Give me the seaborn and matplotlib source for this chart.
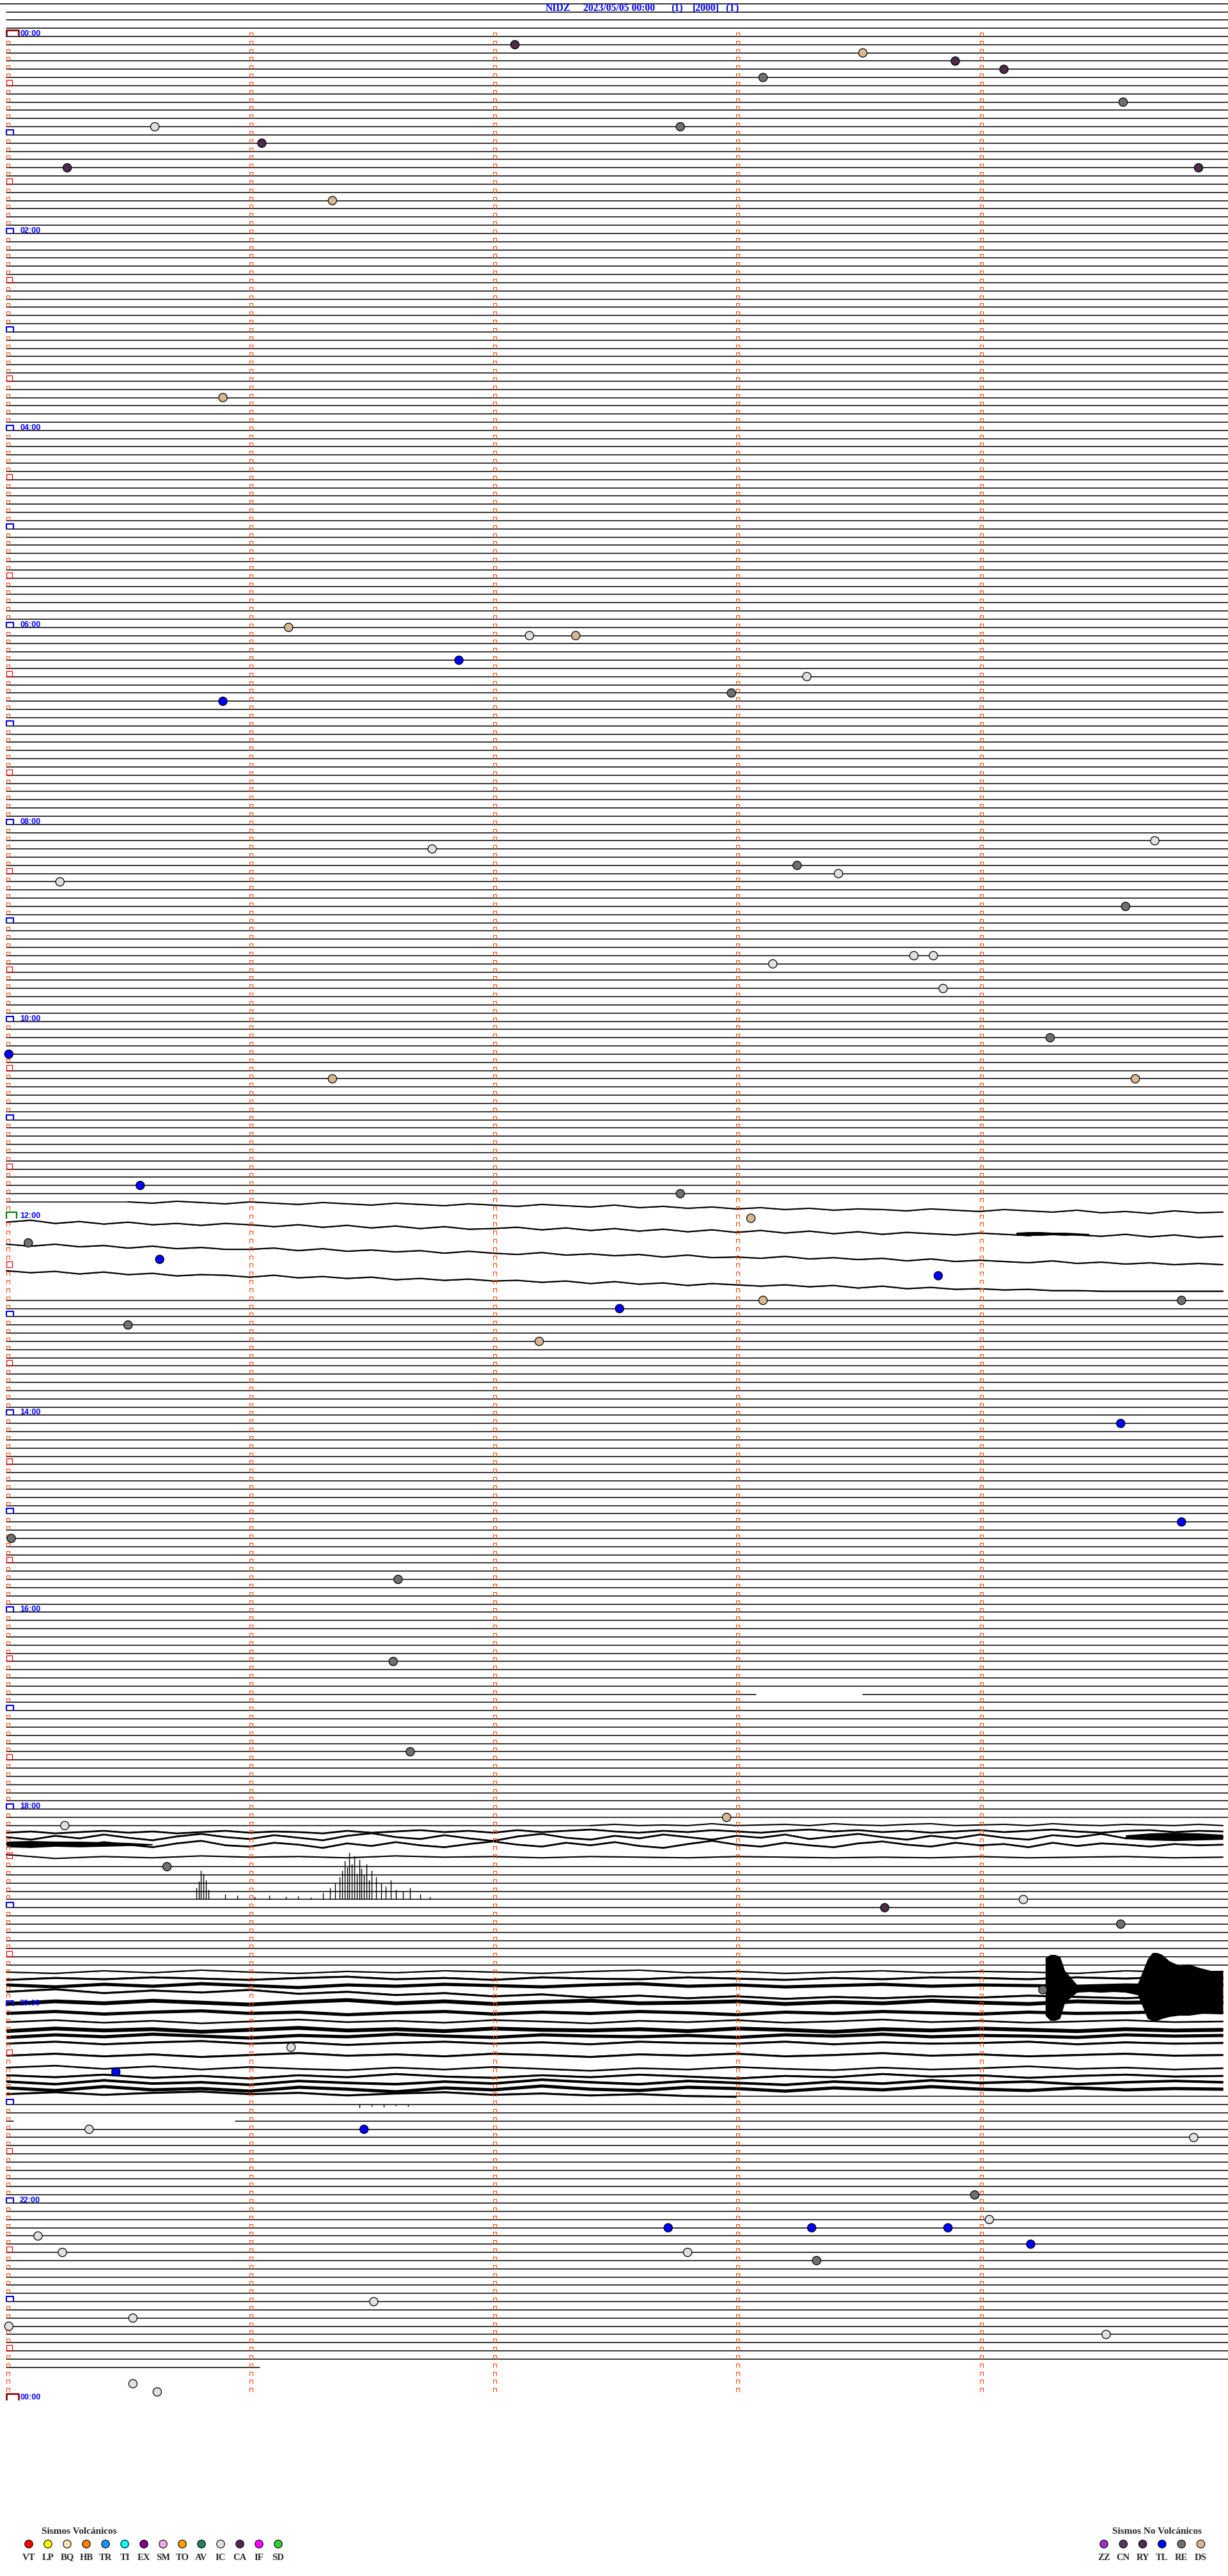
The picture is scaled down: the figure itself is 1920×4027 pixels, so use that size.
import numpy as np
import pandas as pd
import matplotlib
matplotlib.use("Agg")
import matplotlib.pyplot as plt
from matplotlib.path import Path
import seaborn as sns

sns.set_style("white")
plt.rcParams['font.family'] = ['Liberation Serif', 'DejaVu Sans']

# page geometry (pixels)
W, H = 1920, 4027
X0, PX_MIN = 10, 380.4      # x of minute 0 and pixels per minute
Y0, PX_LINE = 57, 12.83     # y of the 00:00 trace and pixels per 5-minute line
M_END = (W - X0) / PX_MIN

# ---------------- data ----------------
title_parts = ["NIDZ", "2023/05/05 00:00", "(1)", "[2000]", "(T)"]
title_x = [853, 912, 1049, 1083, 1134]

first_line, last_line = -4, 284          # line 0 = 00:00, one line = 5 min
missing_lines = [143, 145, 146, 148, 149, 151, 152, 153]
gap_lines = [202, 254]
gap_start = [3.08, 0.03]
gap_end = [3.52, 0.94]
partial_lines = [142, 218, 251, 284]
partial_start = [0.0, 0.0, 3.0, 0.0]
partial_end = [0.5, 2.4, M_END, 1.04]

# noisy traces: offsets from the line in pixels (down = positive)
trace_142 = [0, 2, -1, 1, 3, 0, 2, 4, 1, 3, 5, 2, 4, 6, 3, 5, 7, 4, 6, 8, 5, 9, 7, 10, 8, 11, 9, 12, 10, 13,
             11, 12, 14, 11, 13, 15, 12, 14, 16, 13, 17, 15, 18, 14, 17, 16]
trace_144 = [6, 3, 8, 5, 9, 6, 10, 8, 11, 8, 10, 13, 10, 14, 11, 15, 12, 16, 13, 17, 16, 14, 18, 15, 19, 16,
             20, 17, 21, 18, 22, 19, 23, 20, 24, 21, 25, 22, 24, 26, 23, 25, 27, 24, 26, 28, 25, 29, 26, 30, 28]
trace_147 = [2, 5, 2, 6, 4, 8, 5, 9, 7, 10, 10, 8, 12, 9, 13, 11, 14, 12, 16, 13, 16, 18, 15, 19, 17, 20,
             18, 22, 19, 23, 22, 24, 21, 25, 23, 26, 24, 28, 25, 29, 27, 29, 31, 28, 32, 30, 33, 31, 34, 32, 34]
trace_150 = [5, 8, 6, 10, 7, 11, 9, 13, 11, 12, 15, 12, 16, 14, 17, 15, 19, 17, 20, 18, 21, 20, 23, 21, 25,
             22, 26, 24, 28, 25, 27, 29, 27, 30, 28, 32, 29, 33, 31, 34, 33, 35, 34, 36, 36, 37, 37, 37, 37, 37, 37]
trace_218 = [0, -2, 0, -1, 0, -3, 0, -1, -2, 0, -3, -1, 0, -2, -3, 0, -1, -2, 0, -3, -1, 0, -2, -1, 0, -2, 0]
trace_219 = [-2, -4, -1, -3, -5, -2, -4, -1, -3, -5, -2, -4, -3, -1, -5, -2, -4, -6, -3, -5, -2, -6, -3, -5,
             -7, -4, -2, -5, -3, -6, -4, -2, -5, -7, -4, -6, -3, -5, -2, -4, -6, -3, -5, -7, -4, -2, -5, -6, -3, -5, -4]
trace_220 = [-8, -4, -10, -6, -12, -7, -3, -9, -13, -8, -5, -11, -7, -3, -10, -14, -8, -5, -11, -6, -2, -9, -13,
             -7, -4, -10, -6, -12, -8, -4, -10, -7, -12, -5, -9, -13, -8, -4, -10, -6, -12, -7, -4, -11, -8, -13,
             -6, -10, -5, -12, -8]
trace_221 = [-10, -6, -12, -7, -13, -9, -5, -11, -15, -8, -6, -12, -9, -4, -11, -7, -13, -8, -5, -10, -14, -9,
             -6, -12, -8, -13, -7, -4, -10, -15, -9, -6, -12, -8, -5, -11, -14, -9, -6, -12, -8, -10, -5, -12,
             -7, -11, -9, -6, -10, -8, -9]
trace_222 = [-6, 0, -3, -1, -4, -2, -3, -1, -4, -2, -3, -1, -3, -2, -1, -3, -2, -1, -2, -1, -3, -1, -2, -3, -1, -2]
trace_236 = [-2, 0, -4, -1, -5, -2, 0, -3, -1, -4, -2, 0, -3, -5, -1, -3, 0, -2, -4, -1, -3, -2, 0, -4, -2, -3]
trace_237 = [-3, -6, -4, -7, -5, -3, -6, -8, -4, -6, -3, -7, -5, -4, -7, -5, -3, -6, -4, -7, -6, -4, -7, -5, -8, -6]
trace_238 = [-8, -5, -9, -6, -10, -7, -4, -8, -6, -9, -7, -5, -8, -10, -6, -8, -5, -7, -9, -6, -8, -7, -6, -8, -7, -8]
trace_239 = [-10, -14, -8, -12, -9, -13, -7, -10, -5, -8, -3, -6, -1, -4, 0, -3, 1, -2, 0, -3, -1, -4, -2, 0, -3, -2]
trace_240 = [-4, -8, -5, -9, -6, -3, -7, -10, -5, -8, -4, -7, -9, -5, -6, -8, -4, -7, -5, -9, -6, -4, -8, -6, -7, -6]
trace_241 = [-2, -5, -1, -4, -6, -2, -4, 0, -3, -5, -1, -4, -2, -5, -3, 0, -4, -2, -5, -3, -1, -4, -2, -3, -5, -3]
trace_242 = [-1, -4, 0, -3, 1, -2, -5, -1, -3, 0, -4, -2, 1, -3, -1, -4, 0, -2, -5, -1, -3, 0, -2, -4, -1, -2]
trace_243 = [0, -4, -1, -3, 1, -2, -5, -1, -3, 0, -4, -2, -1, -3, 0, -4, -2, 1, -3, -1, -4, -2, 0, -3, -1, -2]
trace_244 = [-3, -7, -4, -8, -5, -2, -6, -4, -8, -5, -3, -7, -5, -4, -6, -3, -7, -5, -8, -4, -6, -5, -3, -7, -5, -6]
trace_245 = [-6, -9, -5, -8, -10, -6, -8, -4, -7, -9, -6, -8, -5, -9, -7, -6, -9, -5, -8, -6, -7, -9, -5, -8, -6, -7]
trace_246 = [0, -3, 1, -2, 2, -1, -4, 0, -2, 1, -3, -1, 2, -2, 0, -3, 1, -1, -4, 0, -2, 1, -1, -3, 0, -1]
trace_247 = [6, 3, 8, 4, 9, 5, 8, 10, 6, 9, 5, 8, 11, 7, 9, 5, 8, 10, 6, 9, 7, 4, 8, 6, 9, 7]
trace_248 = [5, 8, 4, 9, 6, 10, 5, 8, 3, 7, 9, 5, 8, 4, 7, 10, 6, 8, 3, 7, 5, 9, 6, 4, 7, 6]
trace_249 = [2, 6, 0, 5, 3, 7, 1, 4, 6, 2, 5, -1, 3, 6, 1, 4, 7, 2, 5, 0, 4, 2, 6, 3, 1, 3]
trace_250 = [-1, 3, -3, 2, 0, 4, -2, 1, 5, -1, 2, -4, 1, 3, -2, 0, 4, -1, 2, -3, 1, 3, -1, 2, 0, 1]
trace_251 = [-4, -7, -3, -6, -8, -4, -6, -2, -5, -7, -3, -5, -2, -4, -1, 0]

noisy_lines = [142, 144, 147, 150, 218, 219, 220, 221, 222, 236, 237, 238, 239, 240, 241, 242, 243,
               244, 245, 246, 247, 248, 249, 250, 251]
noisy_start = [0.5, 0, 0, 0, 2.4, 0, 0, 0, 0, 0, 0, 0, 0, 0, 0, 0, 0, 0, 0, 0, 0, 0, 0, 0, 0]
noisy_end = [5, 5, 5, 5, 5, 5, 5, 5, 5, 5, 5, 5, 5, 5, 5, 5, 5, 5, 5, 5, 5, 5, 5, 5, 3.0]
noisy_band = [0.4, 0.6, 0.6, 0.6, 0, 1.2, 1.2, 1.2, 0.3, 0.5, 1.5, 2.5, 1.5, 3, 2.5, 1, 3, 2.5, 1.5, 1.5,
              1, 1.5, 2, 2.5, 1.5]
noisy_values = [trace_142, trace_144, trace_147, trace_150, trace_218, trace_219, trace_220, trace_221,
                trace_222, trace_236, trace_237, trace_238, trace_239, trace_240, trace_241, trace_242,
                trace_243, trace_244, trace_245, trace_246, trace_247, trace_248, trace_249, trace_250, trace_251]

# bursts of strong shaking (envelope top / bottom in pixels)
burst144_m = [4.15, 4.2, 4.25, 4.3, 4.35, 4.4, 4.45]
burst144_top = [22, 21, 21, 22, 22, 23, 24]
burst144_bot = [25, 26, 27, 26, 27, 26, 26]
burst220_m = [4.6, 4.7, 4.8, 4.9, 5.0]
burst220_top = [-11, -14, -15, -14, -12]
burst220_bot = [-5, -3, -2, -3, -4]
burst221_m = [0, 0.1, 0.2, 0.3, 0.4, 0.5, 0.6]
burst221_top = [-14, -15, -14, -14, -13, -12, -10]
burst221_bot = [-5, -4, -6, -5, -6, -7, -8]
burst238_m = [4.27, 4.29, 4.31, 4.33, 4.35, 4.40, 4.45, 4.50, 4.55, 4.60, 4.65, 4.69, 4.71, 4.73, 4.75,
              4.78, 4.82, 4.86, 4.90, 4.95, 5.0]
burst238_top = [-50, -55, -55, -52, -30, -8, -6, -8, -6, -8, -10, -48, -58, -58, -55, -45, -38, -40,
                -35, -30, -30]
burst238_bot = [40, 48, 48, 45, 20, 4, 3, 4, 3, 4, 8, 45, 48, 48, 45, 42, 40, 40, 38, 35, 35]

# spikes on the 18:55 line and small dips on the 21:00 line (pixels)
spike227_m = [0.78, 0.79, 0.80, 0.81, 0.82, 0.83, 0.90, 0.95, 1.02, 1.08, 1.15, 1.20, 1.25, 1.30, 1.33,
              1.35, 1.37, 1.38, 1.39, 1.40, 1.41, 1.42, 1.43, 1.44, 1.45, 1.46, 1.47, 1.48, 1.49, 1.50,
              1.52, 1.54, 1.56, 1.58, 1.60, 1.63, 1.66, 1.70, 1.74]
spike227_h = [18, 28, 45, 40, 30, 15, 8, 6, 4, 6, 4, 5, 3, 10, 18, 25, 35, 45, 60, 50, 73, 55, 68, 40, 62,
              48, 38, 55, 30, 45, 35, 25, 20, 30, 15, 12, 18, 8, 4]
dip252_m = [1.45, 1.5, 1.55, 1.6, 1.65]
dip252_h = [5, 3, 4, 2, 3]

# events: line index, minute within the line, type
event_line = [1, 2, 3, 4, 5, 8, 11, 11, 13, 16, 16, 20, 44, 72, 73, 73, 76, 78, 80, 81, 99, 98, 101, 102,
              103, 106, 112, 112, 113, 116, 122, 124, 127, 127, 140, 141, 144, 147, 149, 151, 155, 154, 154,
              157, 159, 169, 181, 183, 188, 198, 209, 218, 217, 223, 228, 227, 230, 238, 245, 248, 255, 255,
              256, 263, 266, 267, 267, 267, 269, 268, 270, 270, 271, 276, 278, 279, 280, 286, 287]
event_min = [2.09, 3.52, 3.90, 4.10, 3.11, 4.59, 0.61, 2.77, 1.05, 0.25, 4.90, 1.34, 0.89, 1.16, 2.15, 2.34,
             1.86, 3.29, 2.98, 0.89, 1.75, 4.72, 3.25, 3.42, 0.22, 4.60, 3.73, 3.81, 3.15, 3.85, 4.29, 0.01,
             1.34, 4.64, 0.55, 2.77, 3.06, 0.09, 0.63, 3.83, 2.52, 3.11, 4.83, 0.50, 2.19, 4.58, 4.83, 0.02,
             1.61, 1.59, 1.66, 0.24, 2.96, 0.66, 3.61, 4.18, 4.58, 4.26, 1.17, 0.45, 0.34, 1.47, 4.88, 3.98,
             4.04, 2.72, 3.31, 3.87, 4.21, 0.13, 0.23, 2.80, 3.33, 1.51, 0.52, 0.01, 4.52, 0.52, 0.62]
event_type = ["RY", "DS", "RY", "RY", "RE", "RE", "IC", "RE", "RY", "RY", "RY", "DS", "DS", "DS", "IC", "DS",
              "TL", "IC", "RE", "TL", "IC", "IC", "RE", "IC", "IC", "RE", "IC", "IC", "IC", "IC", "RE", "TL",
              "DS", "DS", "TL", "RE", "DS", "RE", "TL", "TL", "TL", "DS", "RE", "RE", "DS", "TL", "TL", "RE",
              "RE", "RE", "RE", "IC", "DS", "RE", "RY", "IC", "RE", "RE", "IC", "TL", "IC", "TL", "IC", "RE",
              "IC", "TL", "TL", "TL", "TL", "IC", "IC", "IC", "RE", "IC", "IC", "IC", "IC", "IC", "IC"]

# legend
volc_names = ["VT", "LP", "BQ", "HB", "TR", "TI", "EX", "SM", "TO", "AV", "IC", "CA", "IF", "SD"]
volc_colors = ["#ff0000", "#ffff00", "#f3e5b5", "#ff8000", "#1e90ff", "#00ffff", "#800080", "#f0a8e8",
               "#ffa000", "#208060", "#e0e0e0", "#4b2c4b", "#ff00ff", "#33cc33"]
nonvolc_names = ["ZZ", "CN", "RY", "TL", "RE", "DS"]
nonvolc_colors = ["#9933cc", "#4d3b57", "#4b2c4b", "#0000ff", "#707070", "#d8b890"]

# ---------------- figure ----------------
fig = plt.figure(figsize=(W / 100, H / 100), dpi=100)
ax = fig.add_axes([0, 0, 1, 1])
top = fig.add_axes([0, 0, 1, 1], zorder=10)
top.patch.set_alpha(0)

# flat trace segments
noisy_full = set(noisy_lines) - set(partial_lines)
rows = []
seg = 0
for n in range(first_line, last_line + 1):
    if n in missing_lines or n in noisy_full:
        continue
    if n in partial_lines:
        k = partial_lines.index(n)
        spans = [(partial_start[k], partial_end[k])]
    elif n in gap_lines:
        k = gap_lines.index(n)
        spans = [(0, gap_start[k]), (gap_end[k], M_END)]
    elif n == first_line:
        spans = [(-X0 / PX_MIN, M_END)]
    else:
        spans = [(0, M_END)]
    for a, b in spans:
        rows += [(seg, a, n), (seg, b, n)]
        seg += 1
flat = pd.DataFrame(rows, columns=["seg", "m", "y"])
sns.lineplot(data=flat, x="m", y="y", units="seg", estimator=None, sort=False,
             color="black", lw=1.1, ax=ax, legend=False)

# noisy traces
rows = []
for k, (n, vals) in enumerate(zip(noisy_lines, noisy_values)):
    xs = np.linspace(noisy_start[k], noisy_end[k], len(vals))
    ys = n + np.array(vals) / PX_LINE
    rows += [(k, x, y) for x, y in zip(xs, ys)]
    if noisy_band[k] > 0:
        b = noisy_band[k] / PX_LINE
        ax.fill_between(xs, ys - b, ys + b, color="black", lw=0)
noisy = pd.DataFrame(rows, columns=["seg", "m", "y"])
sns.lineplot(data=noisy, x="m", y="y", units="seg", estimator=None, sort=False,
             color="black", lw=1.5, ax=ax, legend=False)

for n, bm, bt, bb in [(144, burst144_m, burst144_top, burst144_bot),
                      (220, burst220_m, burst220_top, burst220_bot),
                      (221, burst221_m, burst221_top, burst221_bot),
                      (238, burst238_m, burst238_top, burst238_bot)]:
    ax.fill_between(bm, n + np.array(bt) / PX_LINE, n + np.array(bb) / PX_LINE, color="black", lw=0)

ax.vlines(spike227_m, 227, 227 - np.array(spike227_h) / PX_LINE, colors="black", lw=1.0)
ax.vlines(dip252_m, 252, 252 + np.array(dip252_h) / PX_LINE, colors="black", lw=1.0)


# minute ticks and hour boxes
def cap(w, h, closed=False):
    verts = [(0, 0), (0, h), (w, h), (w, 0)]
    codes = [Path.MOVETO, Path.LINETO, Path.LINETO, Path.LINETO]
    if closed:
        verts.append((0, 0))
        codes.append(Path.CLOSEPOLY)
    return Path(verts, codes)


all_lines = np.arange(0, 288)
tick_x, tick_y = [], []
for n in all_lines:
    for m in range(5):
        if m == 0 and n % 6 == 0:
            continue
        tick_x.append(m)
        tick_y.append(n)
ax.plot(tick_x, tick_y, ls="none", marker=cap(5, 6), ms=1.44 * 6, mfc="none",
        mec="#ff4500", mew=0.8, zorder=4)

hour_lines = [n for n in range(12, 288, 12) if n != 144]
half_lines = list(range(6, 288, 12))
ax.plot([0] * len(hour_lines), hour_lines, ls="none", marker=cap(11, 8), ms=1.44 * 11,
        mfc="none", mec="#0000ff", mew=1.5, zorder=4)
ax.plot([0] * len(half_lines), half_lines, ls="none", marker=cap(9, 9, True), ms=1.44 * 9,
        mfc="none", mec="#ff0000", mew=0.9, zorder=4)
ax.plot([0], [144], ls="none", marker=cap(16, 10), ms=1.44 * 16, mfc="none",
        mec="#008000", mew=1.6, zorder=4)
ax.plot([0, 0], [0, 288], ls="none", marker=cap(19, 10), ms=1.44 * 19, mfc="none",
        mec="#800000", mew=1.9, zorder=4)

for n in range(0, 289, 24):
    ax.text(21 / PX_MIN, n - 1 / PX_LINE, f"{(n // 12) % 24:02d}:00", color="#0000ff",
            fontsize=9, fontweight="bold", family=["Liberation Sans", "DejaVu Sans"],
            va="baseline", ha="left", zorder=5)

# events
type_colors = dict(zip(volc_names + nonvolc_names, volc_colors + nonvolc_colors))
events = pd.DataFrame({"m": event_min, "line": event_line, "type": event_type})
sns.scatterplot(data=events, x="m", y="line", hue="type", palette=type_colors, s=90,
                edgecolor="black", linewidth=0.9, legend=False, ax=ax, zorder=6)

ax.set_xlim(-X0 / PX_MIN, M_END)
ax.set_ylim((H - Y0) / PX_LINE, -Y0 / PX_LINE)
ax.axis("off")

# title and legend (pixel coordinates)
for txt, x in zip(title_parts, title_x):
    top.text(x, 13, txt, color="#0000ff", fontsize=11.3, fontweight="bold", ha="left", va="center")

leg = pd.DataFrame({
    "x": [45 + 30 * i for i in range(len(volc_names))] + [1726 + 30.3 * i for i in range(len(nonvolc_names))],
    "y": [3977] * (len(volc_names) + len(nonvolc_names)),
    "name": volc_names + nonvolc_names,
})
sns.scatterplot(data=leg, x="x", y="y", hue="name", palette=type_colors, s=80,
                edgecolor="black", linewidth=0.8, legend=False, ax=top)
for _, r in leg.iterrows():
    top.text(r["x"], 3998, r["name"], fontsize=10.5, fontweight="bold", ha="center", va="center")
top.text(124, 3957, "Sismos Volcánicos", fontsize=11, fontweight="bold", ha="center", va="center")
top.text(1809, 3957, "Sismos No Volcánicos", fontsize=11, fontweight="bold", ha="center", va="center")

top.set_xlim(0, W)
top.set_ylim(H, 0)
top.axis("off")

fig.savefig("out.png", dpi=100)
